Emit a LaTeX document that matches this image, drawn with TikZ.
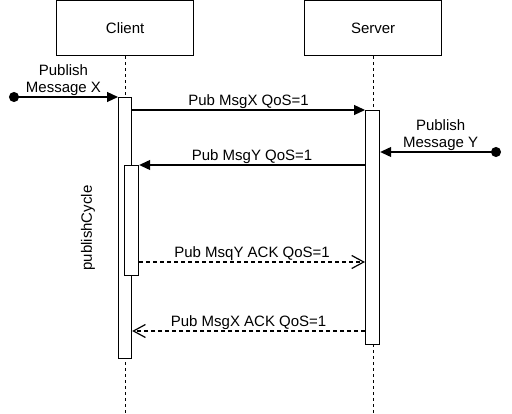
\documentclass[tikz,border=0pt]{standalone}
\usepackage{fontspec}
\setmainfont{Liberation Sans}
\usetikzlibrary{positioning, arrows.meta}
\tikzset{lifehead/.style={
        draw,
        rectangle,
        inner sep=0pt,
        anchor=north west,
        minimum width=137pt,
        minimum height=55pt
}}
\tikzset{activation/.style={
        draw,
        rectangle,
        fill=white,
        inner sep=0pt,
        anchor=north west,
        minimum width=14pt
}}
\tikzset{lifeline/.style={draw, line width=1.2pt, dash pattern=on 3pt off 3pt}}
\tikzset{msglabel/.style={inner sep=1pt, align=center}}
\tikzset{syncmsg/.style={draw, line width=1.2pt, -{Triangle[length=11pt,width=10pt]}}}
\tikzset{startmsg/.style={draw, line width=1.2pt, {Circle[length=10pt]}-{Triangle[length=11pt,width=10pt]}}}
\tikzset{replymsg/.style={draw, line width=1.2pt, dash pattern=on 4pt off 3pt, -{Straight Barb[length=12pt,width=13pt]}}}

\begin{document}
\begin{tikzpicture}[x=1pt, y=-1pt, line width=1.2pt, every node/.style={font=\fontsize{15}{17}\selectfont}]
\useasboundingbox (0,0) rectangle (512,414);
\node[lifehead] (client) at (56,0) {Client};
\node[lifehead] (server) at (304,0) {Server};
\coordinate (bottom) at (0,414);
\coordinate (dotX) at (9,97);
\coordinate (dotY) at (501,152);
\coordinate (ackY) at (0,262);
\coordinate (ackX) at (0,331);

\draw[lifeline] (client) -- (client |- bottom);
\draw[lifeline] (server) -- (server |- bottom);

\node[activation, minimum width=13pt, minimum height=261pt] (actC) at (118,97) {};
\node[activation, minimum height=234pt] (actS) at (365,110) {};
\node[activation, minimum height=110pt] (actN) at (124,165) {};
\node[rotate=90] (cycle) at ([xshift=-37pt]actC.center) {publishCycle};

\draw[startmsg] (dotX) -- node[msglabel, above] {Publish\\Message X} (actC.north west);
\draw[syncmsg] (actC.east |- actS.north) -- node[msglabel, above] {Pub MsgX QoS=1} (actS.north west);
\draw[startmsg] (dotY) -- node[msglabel, above] {Publish\\Message Y} (actS.east |- dotY);
\draw[syncmsg] (actS.west |- actN.north) -- node[msglabel, above] {Pub MsgY QoS=1} (actN.north east);
\draw[replymsg] (actN.east |- ackY) -- node[msglabel, above] {Pub MsqY ACK QoS=1} (actS.west |- ackY);
\draw[replymsg] (actS.west |- ackX) -- node[msglabel, above] {Pub MsgX ACK QoS=1} (actC.east |- ackX);
\end{tikzpicture}
\end{document}
